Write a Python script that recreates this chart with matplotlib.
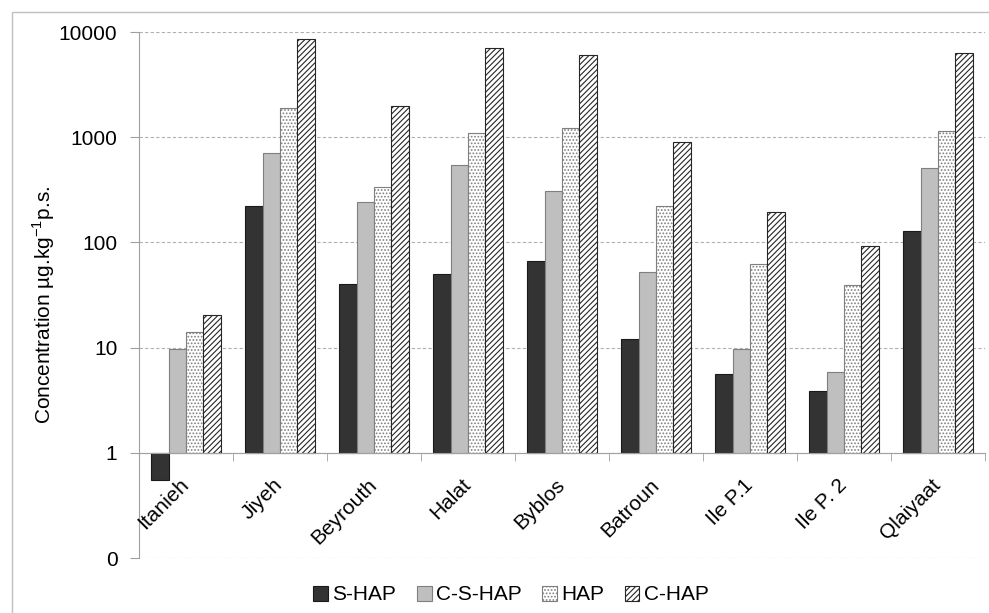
import matplotlib
matplotlib.use("Agg")
import matplotlib.pyplot as plt
import matplotlib.ticker as mticker
import matplotlib.transforms as mtransforms
from matplotlib.patches import Rectangle
import numpy as np

plt.rcParams['font.family'] = ['Liberation Sans', 'DejaVu Sans']
plt.rcParams['hatch.linewidth'] = 0.8

# data (log scale, bars start at 1)
sites = ["Itanieh", "Jiyeh", "Beyrouth", "Halat", "Byblos", "Batroun", "Ile P.1", "Ile P. 2", "Qlaiyaat"]
s_hap = [0.55, 222, 40.4, 50.4, 67, 12.1, 5.65, 3.87, 127]
c_s_hap = [9.6, 715, 242, 541, 311, 52, 9.7, 5.87, 510]
hap = [14.2, 1876, 336, 1099, 1211, 222, 62.7, 39.2, 1133]
c_hap = [20.2, 8570, 1960, 6997, 6040, 910, 196, 93, 6270]
series_names = ["S-HAP", "C-S-HAP", "HAP", "C-HAP"]

fig = plt.figure(figsize=(9.89, 6.13), dpi=100)
# chart frame (only left and top edges visible in the crop)
fig.patches.append(Rectangle((12/989, -0.05), 1.1, 1.05-12/613, transform=fig.transFigure,
                             fill=False, edgecolor='#bfbfbf', lw=1))
ax = fig.add_axes([139/989, 1-558/613, 846/989, (558-32)/613])

x = np.arange(len(sites))
w = 0.185
styles = [
    dict(color='#333333', edgecolor='#1a1a1a', hatch=None),
    dict(color='#bfbfbf', edgecolor='#7f7f7f', hatch=None),
    dict(color='white', edgecolor='#7f7f7f', hatch='.....'),
    dict(color='white', edgecolor='#262626', hatch='//////'),
]
handles = []
for i, (vals, name, st) in enumerate(zip([s_hap, c_s_hap, hap, c_hap], series_names, styles)):
    vals = np.array(vals)
    b = ax.bar(x + (i - 1.5) * w, vals - 1, bottom=1, width=w, color=st['color'],
               edgecolor=st['edgecolor'], hatch=st['hatch'], linewidth=0.8, label=name, zorder=3)
    handles.append(b)

ax.set_yscale('log')
ax.set_ylim(0.1, 10000)
ax.set_xlim(-0.5, len(sites) - 0.5)
ax.yaxis.set_major_locator(mticker.FixedLocator([0.1, 1, 10, 100, 1000, 10000]))
ax.yaxis.set_minor_locator(mticker.NullLocator())
ax.yaxis.set_major_formatter(mticker.FuncFormatter(lambda v, p: "0" if v < 1 else "%d" % round(v)))
ax.grid(axis='y', linestyle=(0, (3, 2)), color='#b0b0b0', linewidth=0.8, zorder=0)
ax.tick_params(axis='y', labelsize=15, length=6.5, color='#a0a0a0', pad=9)

ax.spines['top'].set_visible(False)
ax.spines['right'].set_visible(False)
ax.spines['left'].set_color('#a0a0a0')
ax.spines['bottom'].set_position(('data', 1))
ax.spines['bottom'].set_color('#a0a0a0')
ax.spines['bottom'].set_zorder(4)

# category labels under the line at 1, ticks between categories
ax.set_xticks([])
ax.set_xticks(np.arange(len(sites) + 1) - 0.5, minor=True)
ax.tick_params(axis='x', which='minor', length=6, color='#a0a0a0')
offset = mtransforms.ScaledTranslation(0/100, -29/100, fig.dpi_scale_trans)
for i, s in enumerate(sites):
    ax.text(i, 1, s, rotation=45, ha='right', va='center', rotation_mode='anchor',
            fontsize=15, transform=ax.transData + offset)

ax.set_ylabel("Concentration µg.kg$^{\\mathregular{-1}}$p.s.", fontsize=15)
ax.yaxis.set_label_coords((57-139)/846, (558-305)/526)

fig.legend(handles=handles, labels=series_names, loc='center', bbox_to_anchor=(511/989, 1-595/613),
           ncol=4, frameon=False, fontsize=15, handlelength=0.7, handleheight=0.7,
           handletextpad=0.2, columnspacing=1.0)

fig.savefig("out.png", dpi=100)
